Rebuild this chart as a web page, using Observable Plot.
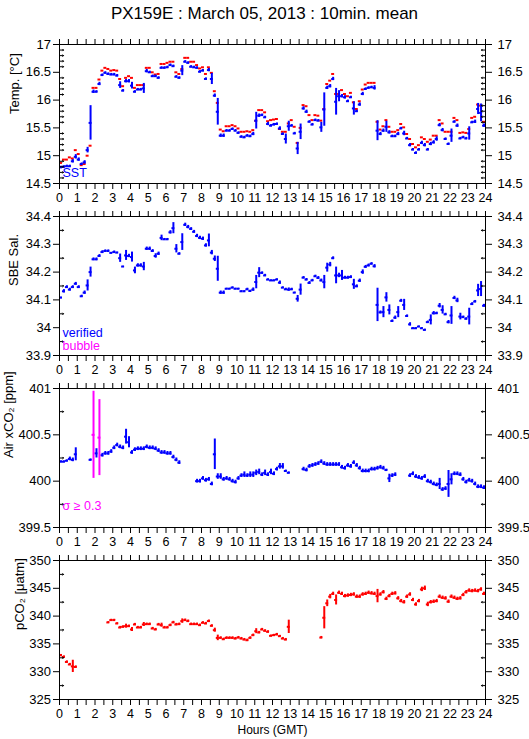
<!DOCTYPE html>
<html><head><meta charset="utf-8">
<script src="https://cdn.jsdelivr.net/npm/d3@7"></script>
<script src="https://cdn.jsdelivr.net/npm/@observablehq/plot@0.6"></script>
<style>
body{margin:0;background:#fff;font-family:"Liberation Sans",Arial,sans-serif;}
#title{width:529px;height:32px;text-align:center;font-size:17px;line-height:28px;color:#000;}
#chart svg{display:block;overflow:visible;}
</style></head><body>
<div id="title">PX159E : March 05, 2013 : 10min. mean</div>
<div id="chart"></div>
<script>
// ---- tick labels ----
const hourLabels = [0,1,2,3,4,5,6,7,8,9,10,11,12,13,14,15,16,17,18,19,20,21,22,23,24];
const tempMajors = [14.5,15,15.5,16,16.5,17];
const tempMinors = [14.6,14.7,14.8,14.9,15.1,15.2,15.3,15.4,15.6,15.7,15.8,15.9,16.1,16.2,16.3,16.4,16.6,16.7,16.8,16.9];
const salMajors = [33.9,34,34.1,34.2,34.3,34.4];
const salMinors = [33.95,34.05,34.15,34.25,34.35];
const airMajors = [399.5,400,400.5,401];
const airMinors = [399.75,400.25,400.75];
const pco2Majors = [325,330,335,340,345,350];
const pco2Minors = [327.5,332.5,337.5,342.5,347.5];

// ---- 10-minute mean series (slot i covers i*10 .. i*10+10 min GMT) ----
const sst = [14.79,14.80,14.81,14.81,14.90,14.98,14.93,14.85,14.88,15.10,15.59,16.15,16.15,16.29,16.45,16.49,16.47,16.46,16.46,16.44,
16.27,16.17,16.34,16.34,16.26,16.15,16.19,16.19,16.21,16.52,16.50,16.43,16.43,16.40,16.58,16.58,16.59,16.63,16.61,16.42,
16.40,16.53,16.69,16.67,16.60,16.59,16.58,16.51,16.53,16.38,16.54,16.38,16.08,15.79,15.36,15.36,15.45,15.45,15.48,15.45,
15.41,15.34,15.33,15.36,15.35,15.39,15.63,15.72,15.73,15.69,15.57,15.54,15.56,15.57,15.49,15.39,15.30,15.53,15.54,15.40,
15.13,15.43,15.85,15.79,15.61,15.56,15.64,15.63,15.51,15.83,16.22,16.25,16.38,15.97,16.07,16.07,16.05,15.98,16.05,15.85,
15.80,15.92,16.11,16.20,16.22,16.23,16.22,15.45,15.39,15.45,15.52,15.42,15.35,15.35,15.39,15.49,15.40,15.31,15.19,15.11,
15.05,15.11,15.23,15.19,15.11,15.21,15.24,15.30,15.55,15.46,15.30,15.21,15.36,15.61,15.54,15.31,15.33,15.31,15.40,15.60,
15.61,15.84,15.77,15.54];
const sstSd = [0.02,0.02,0.02,0.02,0.03,0.04,0.03,0.02,0.03,0.05,0.31,0.03,0.02,0.03,0.02,0.02,0.02,0.02,0.02,0.02,
0.06,0.02,0.03,0.03,0.06,0.02,0.02,0.02,0.09,0.03,0.02,0.02,0.02,0.02,0.02,0.02,0.02,0.02,0.02,0.02,
0.02,0.09,0.02,0.02,0.02,0.02,0.02,0.02,0.02,0.02,0.03,0.10,0.03,0.24,0.03,0.03,0.02,0.02,0.02,0.02,
0.02,0.02,0.02,0.02,0.02,0.03,0.15,0.03,0.02,0.02,0.03,0.02,0.02,0.02,0.03,0.02,0.09,0.09,0.02,0.02,
0.11,0.14,0.03,0.03,0.02,0.02,0.02,0.02,0.09,0.30,0.03,0.03,0.03,0.24,0.10,0.03,0.03,0.02,0.02,0.12,
0.02,0.03,0.03,0.02,0.02,0.02,0.04,0.18,0.03,0.03,0.10,0.03,0.02,0.02,0.03,0.02,0.04,0.02,0.03,0.02,
0.02,0.02,0.03,0.03,0.02,0.03,0.03,0.04,0.03,0.03,0.02,0.02,0.12,0.02,0.03,0.02,0.02,0.02,0.12,0.02,
0.03,0.10,0.16,0.03];
const teq = [14.87,14.93,14.93,14.97,14.95,15.10,15.03,14.83,14.85,15.00,15.18,16.22,16.22,16.37,16.53,16.58,16.56,16.53,16.54,16.53,
16.38,16.25,16.40,16.43,16.40,16.22,16.27,16.27,16.27,16.58,16.58,16.50,16.46,16.47,16.65,16.65,16.67,16.69,16.69,16.50,
16.47,16.56,16.76,16.76,16.69,16.69,16.63,16.57,16.59,16.47,16.59,16.49,16.16,15.95,15.47,15.44,15.53,15.53,15.55,15.53,
15.49,15.43,15.43,15.44,15.43,15.46,15.63,15.82,15.82,15.78,15.62,15.64,15.65,15.66,15.48,15.43,15.43,15.58,15.64,15.52,
15.23,15.50,15.91,15.89,15.73,15.64,15.73,15.72,15.63,15.84,16.29,16.35,16.47,16.11,16.11,16.18,16.11,16.07,16.13,15.96,
15.84,15.98,16.19,16.28,16.31,16.31,16.31,15.61,15.47,15.53,15.64,15.52,15.43,15.43,15.46,15.57,15.51,15.39,15.30,15.21,
15.15,15.19,15.33,15.30,15.25,15.29,15.36,15.36,15.64,15.58,15.43,15.43,15.43,15.68,15.64,15.41,15.42,15.41,15.48,15.68,
15.70,15.92,15.90,15.61];
const sal = [34.108,34.131,34.146,34.137,34.146,34.158,34.146,34.113,34.126,34.152,34.200,34.246,34.246,34.258,34.272,34.276,34.276,34.269,34.272,34.270,
34.250,34.220,34.260,34.258,34.254,34.206,34.224,34.224,34.220,34.284,34.284,34.276,34.258,34.266,34.323,34.318,34.318,34.343,34.358,34.284,
34.266,34.308,34.370,34.362,34.355,34.345,34.330,34.323,34.320,34.296,34.314,34.270,34.248,34.212,34.126,34.126,34.140,34.140,34.144,34.140,
34.140,34.131,34.131,34.138,34.132,34.137,34.164,34.198,34.197,34.188,34.173,34.170,34.170,34.173,34.162,34.144,34.138,34.137,34.138,34.126,
34.104,34.137,34.180,34.173,34.161,34.170,34.185,34.179,34.170,34.164,34.216,34.227,34.250,34.188,34.188,34.188,34.180,34.180,34.182,34.156,
34.149,34.169,34.200,34.219,34.224,34.230,34.221,34.082,34.055,34.056,34.109,34.064,34.024,34.036,34.056,34.097,34.082,34.042,34.012,33.998,
33.998,34.004,33.998,33.992,34.020,34.028,34.052,34.052,34.079,34.064,34.048,34.020,34.044,34.107,34.098,34.040,34.038,34.032,34.040,34.085,
34.094,34.134,34.139,34.079];
const salSd = [0.002,0.006,0.005,0.005,0.005,0.005,0.005,0.004,0.006,0.020,0.018,0.005,0.005,0.005,0.005,0.004,0.004,0.002,0.004,0.002,
0.015,0.001,0.018,0.006,0.018,0.012,0.006,0.006,0.015,0.006,0.006,0.005,0.008,0.006,0.010,0.003,0.003,0.006,0.020,0.015,
0.004,0.030,0.006,0.006,0.005,0.005,0.006,0.006,0.006,0.006,0.023,0.008,0.010,0.045,0.006,0.006,0.002,0.002,0.003,0.002,
0.002,0.002,0.002,0.004,0.003,0.006,0.024,0.018,0.004,0.004,0.003,0.002,0.002,0.003,0.006,0.003,0.004,0.006,0.004,0.002,
0.012,0.020,0.004,0.004,0.005,0.004,0.004,0.005,0.005,0.024,0.016,0.008,0.005,0.030,0.008,0.018,0.005,0.005,0.005,0.018,
0.005,0.006,0.008,0.005,0.005,0.004,0.006,0.060,0.005,0.020,0.017,0.018,0.004,0.006,0.020,0.005,0.020,0.004,0.006,0.002,
0.002,0.002,0.002,0.003,0.004,0.018,0.006,0.004,0.008,0.015,0.004,0.006,0.032,0.006,0.008,0.012,0.004,0.004,0.030,0.005,
0.004,0.022,0.027,0.005];
const airCO2 = [400.21,400.21,400.22,400.24,400.23,400.29,null,null,null,null,400.23,400.50,400.30,400.47,400.28,400.30,400.30,400.32,400.36,400.39,
400.37,400.36,400.48,400.42,400.31,400.34,400.35,400.35,400.35,400.37,400.36,400.36,400.35,400.33,400.31,400.31,400.30,400.30,400.26,400.23,
400.20,null,null,null,null,null,400.00,400.00,400.03,400.01,400.02,399.97,400.29,400.05,400.05,400.02,400.03,400.02,400.00,399.99,
400.03,400.06,400.07,400.06,400.07,400.07,400.09,400.10,400.07,400.09,400.07,400.10,400.08,400.13,400.16,400.16,400.11,400.09,null,null,
null,null,400.13,400.12,400.16,400.17,400.18,400.19,400.21,400.19,400.18,400.18,400.18,400.18,400.18,400.15,400.14,400.17,400.16,400.20,
400.17,400.14,400.11,400.11,400.11,400.13,400.13,400.14,400.15,400.14,400.12,400.03,400.06,400.07,null,null,null,null,400.06,400.08,
400.05,400.04,400.03,400.05,400.00,399.99,399.97,399.96,399.97,399.91,399.92,399.97,400.02,400.08,400.08,400.07,400.02,399.99,400.01,400.00,
399.97,399.94,399.94,399.93];
const airSd = [0.01,0.01,0.01,0.02,0.02,0.07,null,null,null,null,0.01,0.47,0.05,0.41,0.02,0.02,0.02,0.02,0.02,0.02,
0.02,0.02,0.08,0.06,0.02,0.02,0.02,0.02,0.02,0.02,0.02,0.02,0.02,0.02,0.02,0.02,0.02,0.02,0.02,0.02,
0.02,null,null,null,null,null,0.02,0.02,0.02,0.02,0.02,0.02,0.165,0.03,0.03,0.02,0.02,0.02,0.02,0.02,
0.02,0.02,0.03,0.02,0.03,0.03,0.03,0.03,0.02,0.03,0.02,0.03,0.02,0.02,0.03,0.03,0.01,0.01,null,null,
null,null,0.02,0.02,0.02,0.02,0.02,0.02,0.02,0.02,0.02,0.02,0.02,0.02,0.02,0.02,0.02,0.02,0.02,0.02,
0.02,0.02,0.02,0.02,0.02,0.02,0.02,0.02,0.02,0.02,0.01,0.045,0.02,0.02,null,null,null,null,0.02,0.02,
0.02,0.02,0.02,0.02,0.02,0.02,0.02,0.02,0.06,0.02,0.02,0.145,0.06,0.02,0.02,0.02,0.02,0.02,0.02,0.02,
0.02,0.02,0.02,0.02];
const pco2 = [332.95,332.65,331.75,331.30,330.96,330.85,null,null,null,null,null,null,null,null,null,null,338.86,339.28,339.28,338.67,
337.95,338.07,338.19,338.19,337.59,338.49,337.95,337.95,338.49,338.55,338.55,337.77,337.59,338.49,338.37,337.95,337.95,338.37,338.86,338.49,
338.55,339.10,339.28,339.10,338.55,338.55,338.55,338.37,338.80,338.67,339.10,338.25,337.47,336.08,336.08,335.84,336.08,336.08,336.08,335.96,
336.14,335.96,335.78,335.66,336.08,336.57,337.29,337.05,337.59,337.35,337.17,336.45,336.57,336.69,336.39,335.96,335.78,338.07,null,null,
null,null,null,null,null,null,null,null,336.14,339.70,342.30,343.50,344.00,342.90,344.20,344.00,343.60,343.70,343.80,343.90,
343.50,343.50,343.90,344.00,344.20,344.10,344.00,343.60,343.90,344.30,343.10,343.60,344.00,344.10,343.20,342.70,342.50,343.50,343.90,342.90,
342.10,342.70,344.80,345.00,342.10,342.50,342.60,342.70,343.50,343.30,343.20,342.60,343.50,343.30,343.10,343.20,343.80,344.30,344.60,344.50,
344.60,344.50,344.80,344.00];
const pco2Sd = [0.15,0.2,0.2,0.2,1.1,0.2,null,null,null,null,null,null,null,null,null,null,0.15,0.15,0.15,0.15,
0.2,0.2,0.36,0.2,0.36,0.2,0.2,0.2,0.36,0.2,0.2,0.2,0.2,0.2,0.36,0.2,0.2,0.2,0.2,0.2,
0.2,0.4,0.2,0.2,0.2,0.2,0.2,0.2,0.2,0.2,0.2,0.2,0.36,0.5,0.2,0.2,0.2,0.2,0.2,0.2,
0.2,0.2,0.2,0.2,0.2,0.2,0.45,0.2,0.2,0.2,0.2,0.15,0.15,0.2,0.15,0.2,0.2,1.2,null,null,
null,null,null,null,null,null,null,null,0.2,2.0,0.6,0.4,0.3,0.9,0.3,0.3,0.3,0.3,0.3,0.3,
0.3,0.3,0.3,0.3,0.3,0.3,0.3,1.2,0.3,0.3,0.3,0.3,0.3,0.3,0.3,0.3,0.3,0.3,0.3,0.3,
0.3,0.3,0.4,0.4,0.4,0.3,0.3,0.3,0.3,0.3,0.3,0.3,0.3,0.3,0.3,0.3,0.3,0.3,0.3,0.3,
0.3,0.3,0.3,0.3];

// ---- helpers ----
const BLUE = "#0000ff", RED = "#ff0000", MAGENTA = "#ff00ff";
function rows(vals, sds) {
  return vals.map((v, i) => v == null ? null : {i, v, sd: sds ? (sds[i] ?? 0) : 0}).filter(d => d);
}
function seriesMarks(data, color, bars) {
  const m = [Plot.ruleY(data, {y: "v", x1: d => d.i / 6, x2: d => (d.i + 1) / 6, stroke: color, strokeWidth: 2})];
  if (bars) m.push(Plot.ruleX(data, {x: d => (d.i + 0.5) / 6, y1: d => d.v - d.sd, y2: d => d.v + d.sd, stroke: color, strokeWidth: 2}));
  return m;
}
const halfHours = hourLabels.flatMap(h => h < 24 ? [h, h + 0.5] : [h]);

function panel({domain, majors, minors, label, labelDx, marks, legend = [], last = false}) {
  return Plot.plot({
    width: 529, height: last ? 191 : 172,
    marginLeft: 59, marginRight: 44, marginTop: 12, marginBottom: last ? 40 : 21,
    style: {fontFamily: "'Liberation Sans', Arial, sans-serif", fontSize: "13px", overflow: "visible", background: "transparent", color: "#000"},
    x: {domain: [0, 24]},
    y: {domain},
    marks: [
      ...marks,
      Plot.frame({stroke: "#000"}),
      Plot.axisX({anchor: "bottom", ticks: halfHours, tickSize: 6, tickPadding: 4, tickFormat: d => Number.isInteger(d) ? String(d) : "", label: null, fontSize: 12.5}),
      Plot.axisX({anchor: "top", ticks: halfHours, tickSize: 6, tickFormat: () => "", label: null}),
      Plot.axisY({anchor: "left", ticks: majors, tickSize: 6, tickPadding: 2.5, tickFormat: d => String(d), label: null, fontSize: 13}),
      Plot.axisY({anchor: "right", ticks: majors, tickSize: 6, tickPadding: 6, tickFormat: d => String(d), label: null, fontSize: 13}),
      Plot.vector(minors, {x: 0, y: d => d, length: 4, rotate: 90, anchor: "start", stroke: "#000", strokeWidth: 1}),
      Plot.vector(minors, {x: 24, y: d => d, length: 4, rotate: -90, anchor: "start", stroke: "#000", strokeWidth: 1}),
      Plot.text([label], {frameAnchor: "left", dx: labelDx, rotate: -90, fontSize: 13, text: d => d, fill: "#000"}),
      ...legend.map(([t, c, dy]) => Plot.text([t], {frameAnchor: "bottom-left", dx: 3, dy, textAnchor: "start", lineAnchor: "middle", fill: c, fontSize: 12.5, text: d => d})),
      ...(last ? [Plot.text(["Hours (GMT)"], {frameAnchor: "bottom", dy: 34, fontSize: 12, fill: "#000", text: d => d})] : [])
    ]
  });
}

const airRows = rows(airCO2, airSd);
const chart = document.getElementById("chart");
chart.append(panel({
  domain: [14.5, 17], majors: tempMajors, minors: tempMinors, label: "Temp. [°C]", labelDx: -45,
  marks: [...seriesMarks(rows(teq), RED, false), ...seriesMarks(rows(sst, sstSd), BLUE, true)],
  legend: [["SST", BLUE, -11]]
}));
chart.append(panel({
  domain: [33.9, 34.4], majors: salMajors, minors: salMinors, label: "SBE Sal.", labelDx: -46,
  marks: seriesMarks(rows(sal, salSd), BLUE, true),
  legend: [["verified", BLUE, -23], ["bubble", MAGENTA, -10]]
}));
chart.append(panel({
  domain: [399.5, 401], majors: airMajors, minors: airMinors, label: "Air xCO₂ [ppm]", labelDx: -51,
  marks: [...seriesMarks(airRows.filter(d => d.sd < 0.3), BLUE, true), ...seriesMarks(airRows.filter(d => d.sd >= 0.3), MAGENTA, true)],
  legend: [["σ ≥ 0.3", MAGENTA, -22]]
}));
chart.append(panel({
  domain: [325, 350], majors: pco2Majors, minors: pco2Minors, label: "pCO₂ [μatm]", labelDx: -40,
  marks: seriesMarks(rows(pco2, pco2Sd), RED, true),
  last: true
}));
</script></body></html>
